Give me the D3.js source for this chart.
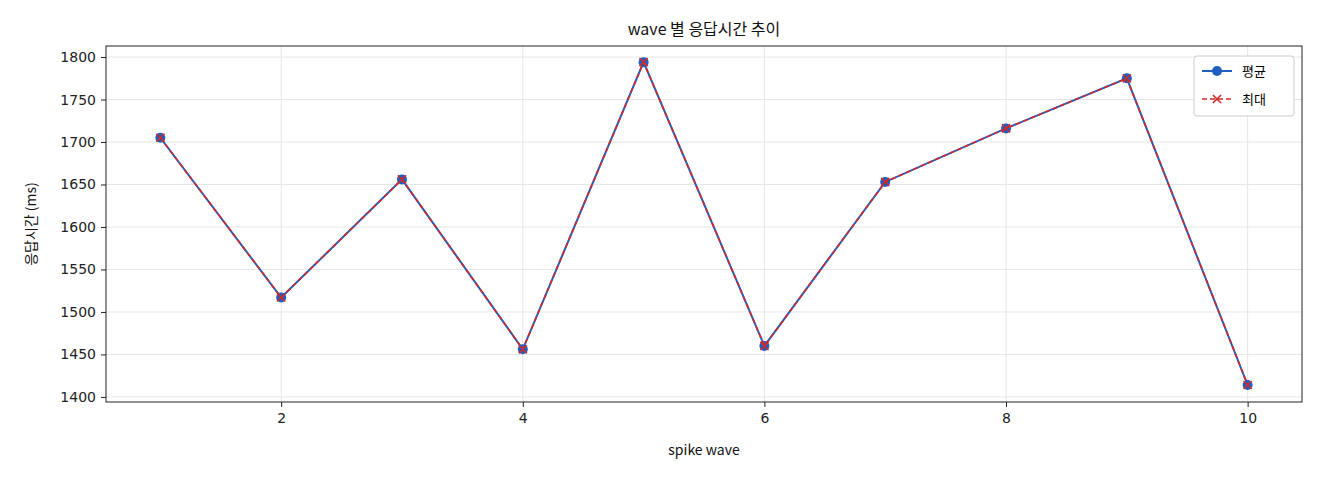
<!DOCTYPE html>
<html><head><meta charset="utf-8">
<script src="https://cdn.jsdelivr.net/npm/d3@7"></script>
<style>body{margin:0;background:#fff;font-family:"Noto Sans CJK KR","DejaVu Sans",sans-serif;}</style>
</head><body><svg id="c" width="1320" height="480"></svg>
<script>
const waves = [1, 2, 3, 4, 5, 6, 7, 8, 9, 10];
const avgMs = [1705, 1517, 1656, 1456, 1794, 1460, 1653, 1716, 1775, 1414];
const maxMs = [1705, 1517, 1656, 1456, 1794, 1460, 1653, 1716, 1775, 1414];
const xTicks = [2, 4, 6, 8, 10];
const yTicks = [1400, 1450, 1500, 1550, 1600, 1650, 1700, 1750, 1800];

const svg = d3.select('#c');
const m = {left: 106, right: 1302, top: 46, bottom: 402};
const x = d3.scaleLinear().domain([0.55, 10.45]).range([m.left, m.right]);
const y = d3.scaleLinear().domain([1394, 1813]).range([m.bottom, m.top]);

// grid
const g = svg.append('g');
g.selectAll('.gx').data(xTicks).enter().append('line')
  .attr('x1', d => x(d)).attr('x2', d => x(d)).attr('y1', m.top).attr('y2', m.bottom)
  .attr('stroke', '#e6e6e6');
g.selectAll('.gy').data(yTicks).enter().append('line')
  .attr('y1', d => y(d)).attr('y2', d => y(d)).attr('x1', m.left).attr('x2', m.right)
  .attr('stroke', '#e6e6e6');

// axes
const xa = svg.append('g').attr('transform', `translate(0,${m.bottom})`)
  .call(d3.axisBottom(x).tickValues(xTicks).tickFormat(d3.format('d')).tickSize(5).tickPadding(6));
const ya = svg.append('g').attr('transform', `translate(${m.left},0)`)
  .call(d3.axisLeft(y).tickValues(yTicks).tickFormat(d3.format('d')).tickSize(5).tickPadding(5));
[xa, ya].forEach(a => {
  a.attr('font-family', 'DejaVu Sans').attr('font-size', 14);
  a.select('.domain').remove();
  a.selectAll('text').attr('fill', '#222');
  a.selectAll('line').attr('stroke', '#222');
});
svg.append('rect').attr('x', m.left).attr('y', m.top)
  .attr('width', m.right - m.left).attr('height', m.bottom - m.top)
  .attr('fill', 'none').attr('stroke', '#222');

const line = d3.line().x((d, i) => x(waves[i])).y(d => y(d));
svg.append('path').datum(avgMs).attr('d', line).attr('fill', 'none')
  .attr('stroke', '#1f5fbf').attr('stroke-width', 2);
svg.selectAll('.pt').data(avgMs).enter().append('circle')
  .attr('cx', (d, i) => x(waves[i])).attr('cy', d => y(d)).attr('r', 5).attr('fill', '#1f5fbf');
svg.append('path').datum(maxMs).attr('d', line).attr('fill', 'none')
  .attr('stroke', '#d62728').attr('stroke-width', 1.6).attr('stroke-dasharray', '5,3');
const cross = d3.symbol().type(d3.symbolX).size(45);
svg.selectAll('.mx').data(maxMs).enter().append('path')
  .attr('d', cross).attr('transform', (d, i) => `translate(${x(waves[i])},${y(d)})`)
  .attr('fill', 'none').attr('stroke', '#d62728').attr('stroke-width', 1.5);

// titles
svg.append('text').attr('x', (m.left + m.right) / 2).attr('y', 35).attr('text-anchor', 'middle')
  .style('font-size', '16px').attr('fill', '#111').text('wave 별 응답시간 추이');
svg.append('text').attr('x', (m.left + m.right) / 2).attr('y', 455).attr('text-anchor', 'middle')
  .style('font-size', '14px').attr('fill', '#111').text('spike wave');
svg.append('text').attr('transform', 'translate(36,224) rotate(-90)').attr('text-anchor', 'middle')
  .style('font-size', '14px').attr('fill', '#111').text('응답시간 (ms)');

// legend
const lg = svg.append('g').attr('transform', 'translate(1194,56)');
lg.append('rect').attr('width', 100).attr('height', 60).attr('rx', 3)
  .attr('fill', '#fff').attr('stroke', '#ccc');
lg.append('line').attr('x1', 8).attr('x2', 38).attr('y1', 15).attr('y2', 15).attr('stroke', '#1f5fbf').attr('stroke-width', 2);
lg.append('circle').attr('cx', 23).attr('cy', 15).attr('r', 5).attr('fill', '#1f5fbf');
lg.append('text').attr('x', 48).attr('y', 20).style('font-size', '13px').text('평균');
lg.append('line').attr('x1', 8).attr('x2', 38).attr('y1', 43).attr('y2', 43).attr('stroke', '#d62728')
  .attr('stroke-width', 1.6).attr('stroke-dasharray', '5,3');
lg.append('path').attr('d', cross).attr('transform', 'translate(23,43)').attr('fill', 'none')
  .attr('stroke', '#d62728').attr('stroke-width', 1.5);
lg.append('text').attr('x', 48).attr('y', 48).style('font-size', '13px').text('최대');
</script></body></html>
